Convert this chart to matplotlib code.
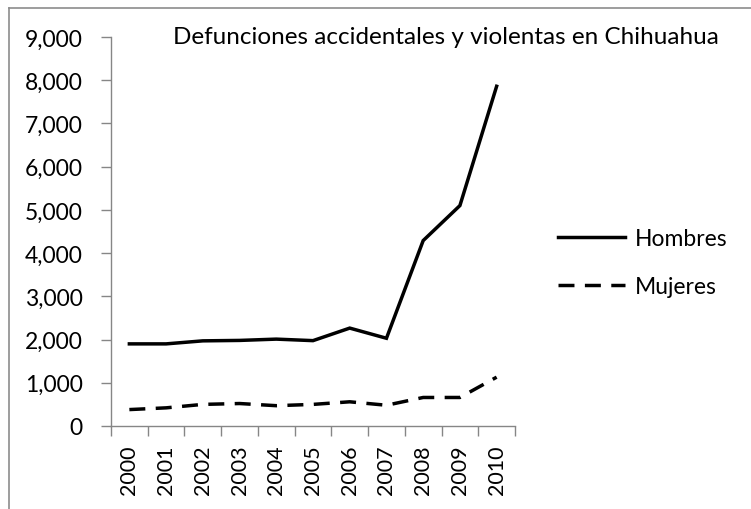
import numpy as np
import matplotlib.pyplot as plt
from matplotlib.lines import Line2D
from matplotlib.ticker import FuncFormatter, FixedLocator

plt.rcParams['font.family'] = ['Lato', 'DejaVu Sans']

years = ['2000', '2001', '2002', '2003', '2004', '2005',
         '2006', '2007', '2008', '2009', '2010']
hombres = [1900, 1900, 1970, 1980, 2010, 1975, 2265, 2030, 4290, 5100, 7860]
mujeres = [380, 420, 500, 520, 470, 500, 560, 480, 660, 660, 1130]

W, H = 751, 510
FS = 16.5
fig = plt.figure(figsize=(W / 100, H / 100), dpi=100)
ax = fig.add_axes([111 / W, (H - 427) / H, (515 - 111) / W, (427 - 38) / H])

x = np.arange(len(years))
ax.plot(x, hombres, color='black', lw=2.5, label='Hombres',
        solid_joinstyle='miter')
ax.plot(x, mujeres, color='black', lw=2.5, linestyle=(0, (4.6, 3)),
        label='Mujeres')

ax.set_xlim(-0.5, len(years) - 0.5)
ax.set_ylim(0, 9000)
ax.set_yticks(np.arange(0, 9001, 1000))
ax.yaxis.set_major_formatter(FuncFormatter(lambda v, p: f'{int(v):,}'))

# category labels centred, tick marks between categories
ax.set_xticks(x)
ax.set_xticklabels(years, rotation=90)
ax.xaxis.set_minor_locator(FixedLocator(np.arange(-0.5, len(years), 1.0)))
ax.tick_params(axis='x', which='major', length=0, pad=13, labelsize=15.5)
ax.tick_params(axis='x', which='minor', length=7, width=1, color='#868686',
               direction='out')
ax.tick_params(axis='y', length=7, width=1, color='#868686', pad=13.5,
               labelsize=FS)

for side in ('top', 'right'):
    ax.spines[side].set_visible(False)
for side in ('left', 'bottom'):
    ax.spines[side].set_color('#868686')
    ax.spines[side].set_linewidth(1)

fig.text(446 / W, (H - 37) / H, 'Defunciones accidentales y violentas en Chihuahua',
         ha='center', va='center', fontsize=17.5)

ax.legend(loc='center left', bbox_to_anchor=(558 / W, (H - 263.5) / H),
          bbox_transform=fig.transFigure, frameon=False, borderpad=0,
          borderaxespad=0, handlelength=67 / (FS * 100 / 72),
          handletextpad=10 / (FS * 100 / 72), labelspacing=1.22,
          fontsize=FS)

# chart frame (only the top and left edges fall inside the image)
fig.add_artist(Line2D([9 / W, 1], [(H - 9) / H, (H - 9) / H],
                      transform=fig.transFigure, color='#8c8c8c', lw=1.2))
fig.add_artist(Line2D([9 / W, 9 / W], [0, (H - 9) / H],
                      transform=fig.transFigure, color='#8c8c8c', lw=1.2))

fig.savefig('out.png', dpi=100)
